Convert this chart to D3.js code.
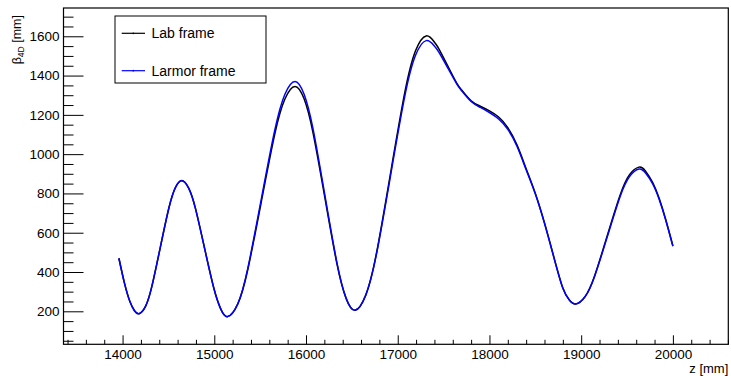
<!DOCTYPE html>
<html>
<head>
<meta charset="utf-8">
<script src="https://cdn.jsdelivr.net/npm/d3@7"></script>
<style>
  html, body { margin: 0; padding: 0; background: #fff; }
  svg { display: block; font-family: "Liberation Sans", Arial, Helvetica, sans-serif; }
  .tick text { fill: #000; }
</style>
</head>
<body>
<svg id="chart" width="731" height="376"></svg>
<script>
// Longitudinal position along the lattice [mm]
const zValues = [
  13960, 14020, 14080, 14130, 14180, 14250, 14320, 14412, 14505, 14575,
  14645, 14720, 14795, 14895, 14996, 15071, 15146, 15256, 15366, 15513,
  15660, 15770, 15880, 15978, 16076, 16207, 16338, 16436, 16534, 16650,
  16767, 16922, 17077, 17194, 17310, 17400, 17450, 17550, 17643, 17700,
  17800, 17900, 18000, 18100, 18200, 18300, 18400, 18500, 18600, 18700,
  18800, 18870, 18940, 19043, 19147, 19285, 19423, 19527, 19630, 19700,
  19780, 19850, 19920, 20000
];

// 4D beta function in the lab frame [mm]
const labBeta = [
  470, 345, 250, 203, 188, 225, 328, 527, 726, 829,
  866, 828, 723, 519, 316, 211, 173, 237, 414, 759,
  1104, 1281, 1345, 1283, 1110, 775, 440, 267, 205, 281,
  493, 904, 1314, 1526, 1602, 1570, 1535, 1445, 1362, 1325,
  1272, 1244, 1220, 1189, 1135, 1047, 926, 800, 650, 480,
  318, 258, 237, 275, 381, 586, 790, 896, 934, 915,
  855, 775, 670, 533
];

// 4D beta function in the Larmor frame [mm]
const larmorBeta = [
  470, 345, 250, 203, 188, 225, 328, 527, 726, 828,
  864, 827, 723, 519, 316, 211, 173, 238, 420, 772,
  1123, 1305, 1370, 1306, 1130, 787, 445, 268, 205, 280,
  488, 892, 1295, 1503, 1578, 1550, 1518, 1435, 1358, 1321,
  1268, 1238, 1212, 1179, 1126, 1040, 921, 798, 648, 478,
  318, 258, 237, 275, 379, 580, 782, 886, 924, 905,
  848, 770, 667, 531
];

const xMajorTicks = [14000, 15000, 16000, 17000, 18000, 19000, 20000];
const yMajorTicks = [200, 400, 600, 800, 1000, 1200, 1400, 1600];
const legendLabels = ["Lab frame", "Larmor frame"];
const seriesColors = ["#000000", "#0000ff"];

const frame = { left: 63.5, right: 728.3, top: 8, bottom: 344.3 };

const svg = d3.select("#chart");

const x = d3.scaleLinear().domain([13356, 20604]).range([frame.left, frame.right]);
const y = d3.scaleLinear().domain([32, 1744]).range([frame.bottom, frame.top]);

const xMinor = d3.range(13400, 20601, 200).filter(v => v % 1000 !== 0);
const yMinor = d3.range(50, 1744, 50).filter(v => v % 200 !== 0);

// Bottom axis: ticks point into the frame
const gx = svg.append("g").attr("transform", `translate(0,${frame.bottom})`);
gx.call(d3.axisBottom(x).tickValues(xMinor).tickSizeInner(-4.5).tickSizeOuter(0).tickFormat(""));
gx.call(g => g.select(".domain").remove());
const gxMajor = svg.append("g").attr("transform", `translate(0,${frame.bottom})`);
gxMajor.call(d3.axisBottom(x).tickValues(xMajorTicks).tickSizeInner(-9).tickSizeOuter(0)
  .tickPadding(5).tickFormat(d3.format("d")));
gxMajor.call(g => g.select(".domain").remove());
gxMajor.selectAll("text").attr("font-size", "13.5px").attr("font-family", "Liberation Sans, Arial, sans-serif");

// Left axis: ticks point into the frame
const gy = svg.append("g").attr("transform", `translate(${frame.left},0)`);
gy.call(d3.axisLeft(y).tickValues(yMinor).tickSizeInner(-10).tickSizeOuter(0).tickFormat(""));
gy.call(g => g.select(".domain").remove());
const gyMajor = svg.append("g").attr("transform", `translate(${frame.left},0)`);
gyMajor.call(d3.axisLeft(y).tickValues(yMajorTicks).tickSizeInner(-20).tickSizeOuter(0)
  .tickPadding(4).tickFormat(d3.format("d")));
gyMajor.call(g => g.select(".domain").remove());
gyMajor.selectAll("text").attr("font-size", "13.5px").attr("font-family", "Liberation Sans, Arial, sans-serif");

svg.selectAll(".tick line").attr("stroke", "#000").attr("stroke-width", 1);

// Plot frame
svg.append("rect")
  .attr("x", frame.left).attr("y", frame.top)
  .attr("width", frame.right - frame.left).attr("height", frame.bottom - frame.top)
  .attr("fill", "none").attr("stroke", "#000").attr("stroke-width", 1.2);

// Curves
const line = d3.line()
  .x((d, i) => x(zValues[i]))
  .y(d => y(d))
  .curve(d3.curveNatural);

[labBeta, larmorBeta].forEach((series, k) => {
  svg.append("path")
    .datum(series)
    .attr("d", line)
    .attr("fill", "none")
    .attr("stroke", seriesColors[k])
    .attr("stroke-width", 1.5)
    .attr("stroke-linejoin", "round");
});

// Axis titles
svg.append("text")
  .attr("x", frame.right).attr("y", 373)
  .attr("text-anchor", "end")
  .attr("font-size", "13px")
  .text("z [mm]");

const yTitle = svg.append("text")
  .attr("transform", `translate(21,${frame.top + 7}) rotate(-90)`)
  .attr("text-anchor", "end")
  .attr("font-size", "12.5px");
yTitle.append("tspan").text("β");
yTitle.append("tspan").attr("font-size", "8.5px").attr("dy", "3").text("4D");
yTitle.append("tspan").attr("dy", "-3").text(" [mm]");

// Legend
const legend = svg.append("g");
legend.append("rect")
  .attr("x", 115).attr("y", 16).attr("width", 151).attr("height", 67)
  .attr("fill", "#fff").attr("stroke", "#000").attr("stroke-width", 1);
const rowY = [33.3, 70.7];
legendLabels.forEach((label, k) => {
  legend.append("line")
    .attr("x1", 121.7).attr("x2", 145)
    .attr("y1", rowY[k]).attr("y2", rowY[k])
    .attr("stroke", seriesColors[k]).attr("stroke-width", 1.2);
  legend.append("circle")
    .attr("cx", 133.3).attr("cy", rowY[k]).attr("r", 0.9)
    .attr("fill", seriesColors[k]);
  legend.append("text")
    .attr("x", 151.5).attr("y", rowY[k] + 5)
    .attr("font-size", "14px")
    .text(label);
});
</script>
</body>
</html>
